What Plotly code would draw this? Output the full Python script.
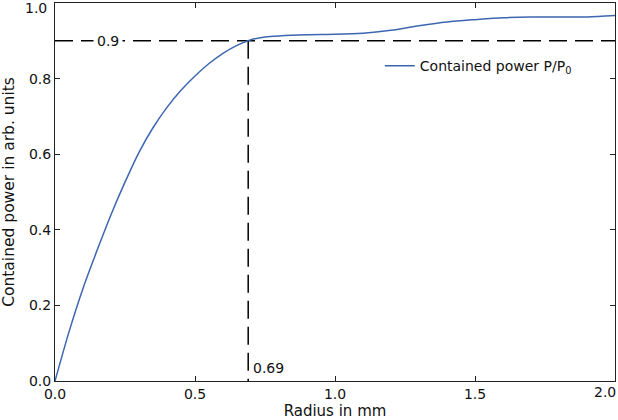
import plotly.graph_objects as go

radius = [0, 0.05, 0.10, 0.15, 0.20, 0.25, 0.30, 0.35, 0.40, 0.45, 0.50, 0.55, 0.60, 0.65, 0.70,
          0.75, 0.80, 0.90, 1.00, 1.10, 1.20, 1.30, 1.40, 1.50, 1.60, 1.70, 1.80, 1.90, 2.00]
power = [0, 0.13, 0.245, 0.345, 0.44, 0.526, 0.605, 0.67, 0.724, 0.769, 0.807, 0.84, 0.867, 0.888, 0.903,
         0.91, 0.913, 0.916, 0.917, 0.92, 0.928, 0.94, 0.95, 0.956, 0.961, 0.963, 0.963, 0.963, 0.967]
x_ticks = [0.0, 0.5, 1.0, 1.5, 2.0]
y_ticks = [0.0, 0.2, 0.4, 0.6, 0.8, 1.0]
threshold = 0.9
r_threshold = 0.69

FONT = "DejaVu Sans"
TXT = "#111"
DASH = "18px,8px"
fig = go.Figure()
fig.add_trace(go.Scatter(x=[0, 2.0], y=[threshold, threshold], mode="lines",
                         line=dict(color="black", width=1.5, dash=DASH),
                         showlegend=False, hoverinfo="skip"))
fig.add_trace(go.Scatter(x=[r_threshold, r_threshold], y=[threshold, 0], mode="lines",
                         line=dict(color="black", width=1.5, dash=DASH),
                         showlegend=False, hoverinfo="skip"))
fig.add_trace(go.Scatter(x=radius, y=power, mode="lines", name="Contained power P/P<sub>0</sub>",
                         line=dict(color="#3d66b0", width=1.5, shape="spline", smoothing=0.8)))

fig.add_annotation(x=0.189, y=threshold, text="0.9", showarrow=False, bgcolor="white",
                   font=dict(family=FONT, size=14, color=TXT), borderpad=3)
fig.add_annotation(x=0.704, y=0.0345, text="0.69", showarrow=False, xanchor="left",
                   font=dict(family=FONT, size=14, color=TXT), borderpad=0)

# end tick labels: drawn nudged inward so they stay inside the page (as in the reference)
x_labels = [f"{v:.1f}" for v in x_ticks]
y_labels = [f"{v:.1f}" for v in y_ticks]
fig.add_annotation(xref="paper", yref="paper", x=0.982, y=-0.029, text=x_labels[-1],
                   showarrow=False, xanchor="center", yanchor="middle", borderpad=0,
                   font=dict(family=FONT, size=14, color=TXT))
fig.add_annotation(xref="paper", yref="paper", x=-0.0125, y=0.986, text=y_labels[-1],
                   showarrow=False, xanchor="right", yanchor="middle", borderpad=0,
                   font=dict(family=FONT, size=14, color=TXT))
x_labels[-1] = ""
y_labels[-1] = ""

axis_common = dict(showgrid=False, zeroline=False, showline=True, linecolor="#222", linewidth=1,
                   mirror="ticks", ticks="inside", ticklen=5, tickcolor="#222",
                   ticklabeloverflow="allow", automargin=False,
                   tickfont=dict(family=FONT, size=14, color=TXT))
fig.update_xaxes(range=[0, 2.0], tickvals=x_ticks, ticktext=x_labels,
                 title=dict(text="Radius in mm", font=dict(family=FONT, size=15, color=TXT), standoff=6),
                 **axis_common)
fig.update_yaxes(range=[0, 1.0], tickvals=y_ticks, ticktext=y_labels,
                 title=dict(text="Contained power in arb. units", font=dict(family=FONT, size=15.5, color=TXT), standoff=12),
                 **axis_common)
fig.update_layout(width=618, height=420, margin=dict(l=55, r=3, t=3, b=39),
                  plot_bgcolor="white", paper_bgcolor="white",
                  legend=dict(x=0.58, y=0.833, xanchor="left", yanchor="middle", bgcolor="rgba(0,0,0,0)",
                              font=dict(family=FONT, size=14, color=TXT)))
fig.write_html("out.html")
